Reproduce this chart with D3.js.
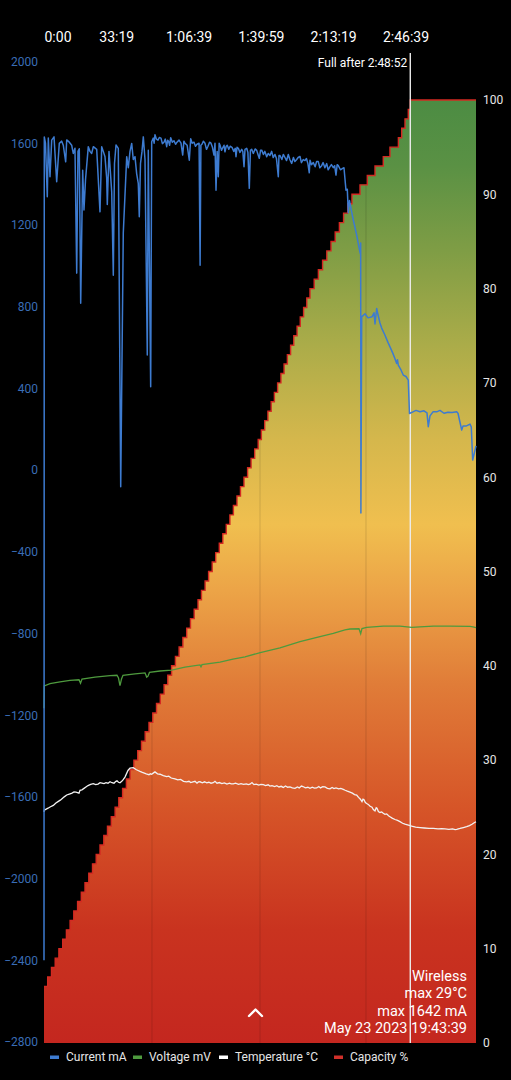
<!DOCTYPE html>
<html>
<head>
<meta charset="utf-8">
<script src="https://cdn.jsdelivr.net/npm/d3@7/dist/d3.min.js"></script>
<style>
  html, body { margin: 0; padding: 0; background: #000; }
  svg { display: block; font-family: Roboto, "Noto Sans", sans-serif; }
</style>
</head>
<body>
<svg id="chart" width="511" height="1080"></svg>
<script>
// ---------- data (time in seconds since start) ----------
const timeTicks = [0, 1999, 3999, 5999, 7999, 9999];
const timeTickLabels = ["0:00", "33:19", "1:06:39", "1:39:59", "2:13:19", "2:46:39"];
const currentTicks = [2000, 1600, 1200, 800, 400, 0, -400, -800, -1200, -1600, -2000, -2400, -2800];
const capacityTicks = [0, 10, 20, 30, 40, 50, 60, 70, 80, 90, 100];

const currentTime = [0, 8, 41, 91, 119, 166, 213, 277, 351, 423, 490, 534, 600, 628, 700, 766, 810, 857, 905, 940, 976, 1015, 1070, 1106, 1148, 1225, 1272, 1319, 1364, 1458, 1549, 1596, 1640, 1687, 1734, 1751, 1798, 1873, 1917, 1950, 1992, 2055, 2122, 2193, 2288, 2332, 2379, 2426, 2470, 2517, 2564, 2608, 2636, 2669, 2711, 2747, 2794, 2857, 2885, 2951, 2979,
  3023, 3046, 3070, 3110, 3153, 3190, 3236, 3275, 3319, 3355, 3394, 3420, 3444, 3475, 3505, 3550, 3596, 3640, 3679, 3735, 3790, 3837, 3870, 3900, 3960, 4019, 4058, 4100, 4149, 4190, 4232, 4290, 4318, 4340, 4370, 4410, 4453, 4495, 4536, 4580, 4619, 4660, 4702, 4730, 4758, 4790, 4821, 4845, 4868, 4910, 4951, 4980, 5006, 5040, 5070, 5110, 5150, 5200, 5250, 5290, 5311, 5340, 5375, 5420, 5469, 5500, 5533, 5560, 5607, 5640, 5679, 5710, 5745, 5790, 5840, 5884, 5920, 5955, 5990, 6022, 6070, 6110, 6160, 6205, 6250, 6298, 6340, 6390, 6430, 6481, 6500, 6528, 6580, 6620, 6666, 6710, 6758, 6800, 6851, 6900, 6940, 6990, 7030, 7081, 7120, 7170, 7219, 7260, 7300, 7338, 7358, 7400, 7449, 7500, 7540, 7587, 7630, 7681, 7720, 7770, 7820, 7860, 7911, 7950, 8002, 8040, 8077, 8110, 8141, 8200, 8262, 8298,
  8353, 8390, 8417, 8451, 8492, 8556, 8650, 8713, 8749, 8760, 8766, 8788, 8880, 8963, 9073, 9129, 9156, 9203, 9239, 9294, 9341, 9433, 9515, 9571, 9654, 9709, 9756, 9778, 9800, 9875, 9938, 10013, 10077, 10110, 10207, 10290, 10400, 10511, 10594, 10630, 10677, 10760, 10862, 10954, 11064, 11175, 11286, 11416, 11452, 11554, 11590, 11673, 11784, 11820, 11858, 11908, 11950];
const currentMa = [-2400, 1631, 1600, 1338, 1625, 1436, 1615, 1631, 1411, 1599, 1610, 1590, 1509, 1616, 1605, 1590, 1550, 1575, 964, 1560, 1573, 817, 1468, 1273, 1420, 1583, 1560, 1550, 1583, 1570, 1264, 1583, 1560, 1534, 1430, 1300, 1560, 1362, 954, 1500, 1591, 1575, -82, 1160, 1534, 1480, 1560, 1599, 1520, 1534, 1450, 1403, 1240, 1500, 1560, 1631, 1520, 563, 1566, 408, 1607,
  1625, 1600, 1642, 1620, 1615, 1628, 1625, 1598, 1605, 1620, 1583, 1615, 1610, 1590, 1627, 1605, 1612, 1595, 1605, 1615, 1600, 1542, 1610, 1600, 1590, 1517, 1622, 1600, 1605, 1585, 1595, 1600, 1003, 1590, 1595, 1610, 1600, 1570, 1585, 1605, 1600, 1580, 1542, 1600, 1370, 1560, 1436, 1600, 1591, 1565, 1580, 1590, 1558, 1585, 1590, 1570, 1585, 1580, 1560, 1575, 1534, 1580, 1575, 1555, 1570, 1560, 1485, 1570, 1575, 1555, 1379, 1565, 1570, 1550, 1572, 1565, 1545, 1526, 1565, 1566, 1545, 1560, 1534, 1550, 1540, 1560, 1530, 1545, 1525, 1436, 1540, 1540, 1520, 1545, 1530, 1515, 1545, 1520, 1501, 1530, 1510, 1520, 1530, 1535, 1505, 1520, 1515, 1525, 1500, 1455, 1517, 1495, 1505, 1485, 1510, 1510, 1480, 1490, 1505, 1480, 1500, 1470, 1485, 1495, 1480, 1490, 1444, 1495, 1490, 1470, 1477, 1480,
  1370, 1375, 1260, 1320, 1280, 1224, 1150, 1090, 1060, 1111, -210, 750, 765, 745, 750, 770, 715, 791, 760, 720, 695, 660, 625, 603, 570, 545, 522, 540, 514, 490, 465, 458, 440, 277, 285, 292, 285, 290, 280, 212, 265, 285, 285, 292, 278, 283, 282, 285, 278, 196, 215, 215, 225, 210, 49, 85, 118];

const voltageTime = [0, 8, 166, 443, 719, 968, 1010, 1051, 1411, 1826, 2019, 2061, 2102, 2144, 2185, 2517, 2794, 2841, 2877, 2918, 3209, 3532, 3900, 4315, 4343, 4370, 4868, 5228, 5560, 5983, 6528, 7081, 7634, 8002, 8326, 8464, 8713, 8760, 8796, 8926, 9385, 9847, 10171, 10400, 10769, 11231, 11784, 11867, 11950];
const voltageMv = [3550, 3786, 3810, 3830, 3845, 3852, 3815, 3860, 3880, 3895, 3900, 3870, 3790, 3860, 3900, 3915, 3925, 3880, 3890, 3930, 3945, 3955, 3985, 4010, 3990, 4012, 4040, 4070, 4095, 4140, 4190, 4256, 4310, 4345, 4380, 4390, 4393, 4340, 4395, 4408, 4420, 4420, 4408, 4412, 4420, 4420, 4418, 4412, 4404];

const tempTime = [0, 8, 111, 180, 257, 330, 387, 450, 498, 560, 628, 700, 775, 830, 885, 968, 996, 1050, 1106, 1160, 1217, 1290, 1364, 1430, 1494, 1550, 1604, 1660, 1715, 1770, 1826, 1880, 1936, 1980, 2019, 2060, 2102, 2150, 2185, 2240, 2323, 2379, 2470, 2545, 2600, 2656, 2720, 2794, 2850, 2904, 2940, 2979, 3020, 3070,
  3140, 3209, 3300, 3394, 3450, 3520, 3624, 3700, 3780, 3860, 3947, 4010, 4060, 4120, 4177, 4232, 4270, 4315, 4380, 4440, 4500, 4560, 4620, 4683, 4730, 4785, 4850, 4920, 4990, 5060, 5130, 5180, 5236, 5300, 5380, 5450, 5520, 5600, 5650, 5698, 5753, 5808, 5870, 5940, 6000, 6066, 6130, 6200, 6250, 6307, 6380, 6440, 6500, 6560, 6619, 6680, 6740, 6804, 6870, 6943, 7010, 7060, 7120, 7164, 7230, 7300, 7358, 7420, 7480, 7543, 7600, 7650, 7710, 7772, 7840, 7911, 7970, 8020, 8077, 8150, 8210, 8279, 8330, 8390, 8464, 8530, 8590, 8650, 8700, 8741, 8770, 8796, 8825, 8852, 8890, 8926, 8970, 9020, 9073, 9110, 9156, 9190, 9211, 9250, 9294, 9340, 9385, 9430, 9480, 9530, 9571, 9630, 9709, 9780, 9847, 9920, 9985, 10080, 10171, 10280, 10400, 10520, 10650, 10769, 10900, 11000, 11092, 11200, 11300, 11370, 11416, 11508, 11600, 11692, 11770, 11839, 11900, 11950];
const tempC = [24.5, 24.7, 24.9, 25.05, 25.2, 25.45, 25.6, 25.75, 25.9, 26.1, 26.3, 26.4, 26.5, 26.62, 26.6, 26.5, 26.8, 26.85, 27.0, 27.15, 27.3, 27.42, 27.5, 27.4, 27.45, 27.6, 27.55, 27.5, 27.6, 27.55, 27.7, 27.6, 27.55, 27.72, 27.8, 27.65, 27.6, 27.75, 27.9, 28.2, 28.9, 29.15, 29.2, 29.0, 28.9, 28.8, 28.7, 28.6, 28.5, 28.45, 28.55, 28.5, 28.62, 28.75,
  28.55, 28.5, 28.35, 28.25, 28.3, 28.1, 28.0, 27.9, 27.95, 27.75, 27.7, 27.75, 27.62, 27.7, 27.75, 27.55, 27.68, 27.7, 27.6, 27.7, 27.58, 27.65, 27.55, 27.6, 27.75, 27.55, 27.62, 27.5, 27.58, 27.45, 27.55, 27.47, 27.47, 27.55, 27.43, 27.5, 27.42, 27.48, 27.4, 27.45, 27.62, 27.4, 27.45, 27.35, 27.42, 27.4, 27.3, 27.38, 27.25, 27.3, 27.2, 27.28, 27.15, 27.22, 27.1, 27.25, 27.12, 27.15, 27.05, 27.0, 27.15, 27.05, 27.25, 27.2, 27.05, 27.12, 27.0, 27.12, 27.02, 27.05, 27.2, 27.05, 27.18, 27.15, 27.0, 26.95, 27.1, 26.98, 27.05, 26.95, 27.0, 26.9, 26.8, 26.7, 26.6, 26.5, 26.35, 26.3, 26.05, 25.9, 25.75, 25.6, 25.85, 25.8, 25.5, 25.4, 25.3, 25.1, 25.0, 24.75, 24.6, 24.95, 24.9, 24.55, 24.45, 24.5, 24.36, 24.25, 24.3, 24.1, 24.0, 23.85, 23.7, 23.6, 23.47, 23.3, 23.2, 23.1, 23.0, 22.9, 22.85, 22.8, 22.75, 22.77, 22.7, 22.72, 22.7, 22.66, 22.7, 22.62, 22.66, 22.75, 22.85, 22.94, 23.05, 23.2, 23.35, 23.47];

const capacityTime = [0, 102, 207, 310, 412, 517, 620, 722, 824, 929, 1032, 1134, 1239, 1342, 1444, 1549, 1654, 1756, 1862, 1967, 2069, 2174, 2279, 2382, 2487, 2592, 2697, 2799, 2904, 3009, 3112, 3217, 3322, 3424, 3529, 3635, 3737, 3842, 3947, 4052, 4155, 4260, 4356, 4456, 4553, 4653, 4749, 4849, 4946, 5042, 5142, 5239, 5338, 5435, 5532, 5632, 5728, 5828, 5925, 6013, 6105, 6194, 6284, 6373, 6462, 6554, 6641, 6732, 6821, 6909, 7001, 7089, 7181, 7269, 7358, 7474, 7590, 7706, 7823, 7939, 8055, 8171, 8287, 8403, 8519, 8741, 8943, 9156, 9385, 9570, 9803, 9894, 9986, 10077, 10132, 11950];
const capacityPct = [6, 7, 8, 9, 10, 11, 12, 13, 14, 15, 16, 17, 18, 19, 20, 21, 22, 23, 24, 25, 26, 27, 28, 29, 30, 31, 32, 33, 34, 35, 36, 37, 38, 39, 40, 41, 42, 43, 44, 45, 46, 47, 48, 49, 50, 51, 52, 53, 54, 55, 56, 57, 58, 59, 60, 61, 62, 63, 64, 65, 66, 67, 68, 69, 70, 71, 72, 73, 74, 75, 76, 77, 78, 79, 80, 81, 82, 83, 84, 85, 86, 87, 88, 89, 90, 91, 92, 93, 94, 95, 96, 97, 98, 99, 100, 100];

const seamTimes = [2987, 5975, 8907];
const fullTime = 10132;
const fullLabel = "Full after 2:48:52";
const infoLines = ["Wireless", "max 29°C", "max 1642 mA", "May 23 2023 19:43:39"];
const legendLabels = ["Current mA", "Voltage mV", "Temperature °C", "Capacity %"];
const legendColors = ["#3d7bd0", "#4e9a3e", "#ffffff", "#d0302a"];

// ---------- scales ----------
const svg = d3.select("#chart");
const x = d3.scaleLinear().domain([0, 11950]).range([44, 476]);
const yL = d3.scaleLinear().domain([-2800, 2000]).range([1042, 61.5]);
const yR = d3.scaleLinear().domain([0, 100]).range([1043, 100]);

// gradient for capacity
const defs = svg.append("defs");
const grad = defs.append("linearGradient").attr("id", "capGrad")
  .attr("gradientUnits", "userSpaceOnUse")
  .attr("x1", 0).attr("x2", 0).attr("y1", yR(0)).attr("y2", yR(100));
[[0, "#c4271f"], [0.12, "#c9331f"], [0.25, "#d65528"], [0.38, "#e07c38"], [0.48, "#eca447"], [0.55, "#f0bf4f"], [0.64, "#d5b74c"], [0.74, "#abac49"], [0.84, "#7f9d45"], [0.93, "#5a9144"], [1, "#4c8c43"]]
  .forEach(([o, c]) => grad.append("stop").attr("offset", o).attr("stop-color", c));

const capData = capacityTime.map((t, i) => ({ t, v: capacityPct[i] }));

const area = d3.area().curve(d3.curveStepAfter)
  .x(d => x(d.t)).y0(yR(0)).y1(d => yR(d.v));
const capLine = d3.line().curve(d3.curveStepAfter)
  .x(d => x(d.t)).y(d => yR(d.v));

defs.append("clipPath").attr("id", "capClip")
  .append("path").attr("d", area(capData));

svg.append("path").attr("d", area(capData)).attr("fill", "url(#capGrad)");

// faint seams inside the fill
svg.append("g").attr("clip-path", "url(#capClip)")
  .selectAll("line").data(seamTimes).join("line")
  .attr("x1", d => x(d)).attr("x2", d => x(d))
  .attr("y1", yR(100)).attr("y2", yR(0))
  .attr("stroke", "rgba(0,0,0,0.13)").attr("stroke-width", 1);

// capacity outline
svg.append("path").attr("d", capLine(capData))
  .attr("fill", "none").attr("stroke", "#d42a22").attr("stroke-width", 1.4);

// full-charge marker
svg.append("line")
  .attr("x1", x(fullTime)).attr("x2", x(fullTime))
  .attr("y1", 53).attr("y2", yR(0))
  .attr("stroke", "#ececec").attr("stroke-width", 1.4);
svg.append("text").attr("x", x(fullTime) - 3).attr("y", 63)
  .attr("dy", "0.35em").attr("text-anchor", "end")
  .attr("fill", "#ffffff").attr("font-size", 12).text(fullLabel);

// lines
const currentData = currentTime.map((t, i) => ({ t, v: currentMa[i] }));
const voltageData = voltageTime.map((t, i) => ({ t, v: voltageMv[i] }));
const tempData = tempTime.map((t, i) => ({ t, v: tempC[i] }));

svg.append("path").datum(voltageData)
  .attr("d", d3.line().x(d => x(d.t)).y(d => yR(d.v / 100)))
  .attr("fill", "none").attr("stroke", "#4e9a3e").attr("stroke-width", 1.3);

svg.append("path").datum(tempData)
  .attr("d", d3.line().x(d => x(d.t)).y(d => yR(d.v)))
  .attr("fill", "none").attr("stroke", "#f2f2f2").attr("stroke-width", 1.3);

svg.append("path").datum(currentData)
  .attr("d", d3.line().x(d => x(d.t)).y(d => yL(d.v)))
  .attr("fill", "none").attr("stroke", "#3d7bd0").attr("stroke-width", 1.5)
  .attr("stroke-linejoin", "round");

// axes
const topAxis = svg.append("g").attr("transform", "translate(0,37)")
  .call(d3.axisTop(x).tickValues(timeTicks).tickSize(0).tickPadding(0)
    .tickFormat((d, i) => timeTickLabels[i]));
topAxis.select(".domain").remove();
topAxis.selectAll("text").attr("fill", "#ffffff").attr("font-size", 14)
  .attr("font-family", "Roboto, sans-serif").attr("dy", "0.35em").attr("y", 0)
  .attr("text-anchor", (d, i) => i === 0 ? "start" : "middle");

const leftAxis = svg.append("g").attr("transform", "translate(38,0)")
  .call(d3.axisLeft(yL).tickValues(currentTicks).tickSize(0).tickPadding(0)
    .tickFormat(d3.format("d")));
leftAxis.select(".domain").remove();
leftAxis.selectAll("text").attr("fill", "#3a6db6").attr("font-size", 12)
  .attr("font-family", "Roboto, sans-serif");

const rightAxis = svg.append("g").attr("transform", "translate(483,0)")
  .call(d3.axisRight(yR).tickValues(capacityTicks).tickSize(0).tickPadding(0)
    .tickFormat(d3.format("d")));
rightAxis.select(".domain").remove();
rightAxis.selectAll("text").attr("fill", "#e6e6e6").attr("font-size", 12)
  .attr("font-family", "Roboto, sans-serif");

// info text
svg.append("g").selectAll("text").data(infoLines).join("text")
  .attr("x", 467).attr("y", (d, i) => 976 + i * 17.4)
  .attr("dy", "0.35em").attr("text-anchor", "end")
  .attr("fill", "#ffffff").attr("font-size", 14.5).text(d => d);

// chevron
svg.append("path").attr("d", "M249,1016 L255.5,1009.5 L262,1016")
  .attr("fill", "none").attr("stroke", "#ffffff").attr("stroke-width", 2.4)
  .attr("stroke-linecap", "round").attr("stroke-linejoin", "round");

// legend
const legendX = [50, 133, 219, 334];
const lg = svg.append("g").attr("transform", "translate(0,1057)");
legendLabels.forEach((label, i) => {
  lg.append("rect").attr("x", legendX[i]).attr("y", -1.5).attr("width", 9).attr("height", 3.5)
    .attr("fill", legendColors[i]);
  lg.append("text").attr("x", legendX[i] + 16).attr("y", 0).attr("dy", "0.35em")
    .attr("fill", "#e6e6e6").attr("font-size", 12).text(label);
});
</script>
</body>
</html>
